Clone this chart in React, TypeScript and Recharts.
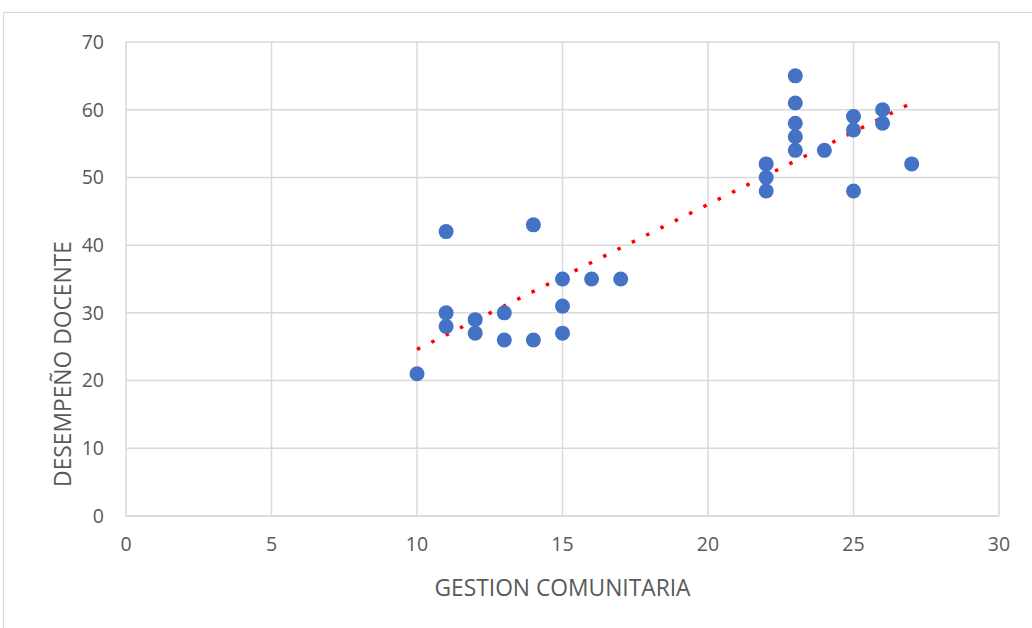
import {
  CartesianGrid,
  Scatter,
  ScatterChart,
  XAxis,
  YAxis,
} from "recharts";

const gestion = [10, 11, 11, 11, 12, 12, 13, 13, 14, 14, 15, 15, 15, 16, 17, 22, 22, 22, 23, 23, 23, 23, 23, 24, 25, 25, 25, 26, 26, 27];
const desempeno = [21, 42, 30, 28, 29, 27, 30, 26, 43, 26, 35, 31, 27, 35, 35, 52, 50, 48, 65, 61, 58, 56, 54, 54, 59, 57, 48, 60, 58, 52];

const trendX = [10, 27];
const trendY = [24.6, 61.0];

const xTicks = [0, 5, 10, 15, 20, 25, 30];
const yTicks = [0, 10, 20, 30, 40, 50, 60, 70];

const points = gestion.map((x, i) => ({ x, y: desempeno[i] }));
const trend = trendX.map((x, i) => ({ x, y: trendY[i] }));

const FONT = "'Open Sans', Lato, sans-serif";
const TICK = { fill: "#595959", fontSize: 19.5, fontFamily: FONT };
const GRID = "#d9d9d9";

function YTitle({ viewBox }: any) {
  const x = 62;
  const y = viewBox.y + viewBox.height / 2 + 85;
  return (
    <text
      x={x}
      y={y}
      transform={`rotate(-90, ${x}, ${y})`}
      textAnchor="middle"
      dominantBaseline="central"
      fill="#595959"
      fontSize={22.8}
      fontFamily={FONT}
    >
      DESEMPEÑO DOCENTE
    </text>
  );
}

function XTitle({ viewBox }: any) {
  const x = viewBox.x + viewBox.width / 2;
  const y = viewBox.y + 71;
  return (
    <text
      x={x}
      y={y}
      textAnchor="middle"
      dominantBaseline="central"
      fill="#595959"
      fontSize={22.8}
      fontFamily={FONT}
    >
      GESTION COMUNITARIA
    </text>
  );
}

export default function App() {
  return (
    <div style={{ position: "fixed", left: 0, top: 0, width: 1032, height: 628, background: "#fff" }}>
      <div
        style={{
          position: "absolute",
          left: 3,
          top: 12,
          width: 1040,
          height: 640,
          border: "1px solid #d9d9d9",
        }}
      />
      <ScatterChart
        width={1032}
        height={628}
        margin={{ top: 42, right: 33, bottom: 0, left: 0 }}
        style={{ position: "absolute", left: 0, top: 0 }}
      >
        <CartesianGrid stroke={GRID} strokeWidth={1.5} />
        <XAxis
          type="number"
          dataKey="x"
          domain={[0, 30]}
          ticks={xTicks}
          tick={TICK}
          tickLine={false}
          tickSize={0}
          tickMargin={21}
          axisLine={{ stroke: GRID, strokeWidth: 1.5 }}
          height={112}
          label={<XTitle />}
        />
        <YAxis
          type="number"
          dataKey="y"
          domain={[0, 70]}
          ticks={yTicks}
          tick={TICK}
          tickLine={false}
          tickSize={0}
          tickMargin={22}
          axisLine={false}
          width={126}
          label={<YTitle />}
        />
        <Scatter
          data={trend}
          line={{ stroke: "#ff0000", strokeWidth: 3.5, strokeDasharray: "3.5 12.5" }}
          shape={() => <g />}
          isAnimationActive={false}
        />
        <Scatter data={points} fill="#4472c4" isAnimationActive={false} shape={(p: any) => <circle cx={p.cx} cy={p.cy} r={7.5} fill="#4472c4" />} />
      </ScatterChart>
    </div>
  );
}
